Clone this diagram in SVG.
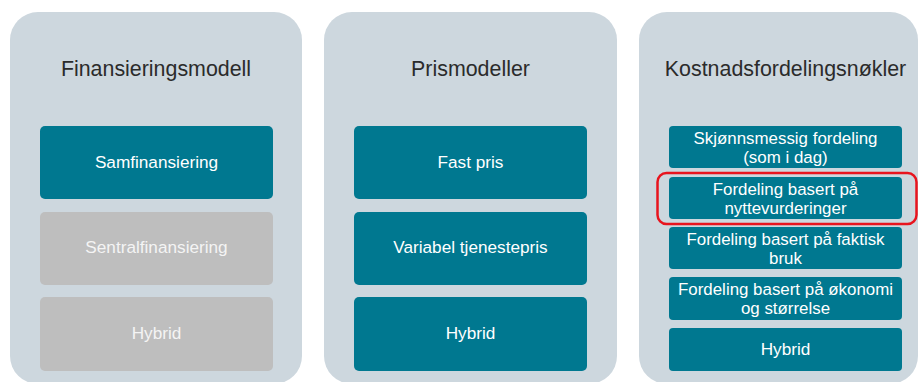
<svg xmlns="http://www.w3.org/2000/svg" width="919" height="382" viewBox="0 0 919 382">
<style>
.panel{fill:#cdd7de}
.teal{fill:#007890}
.gray{fill:#bebebe}
.title{font-family:"Liberation Sans",Arial,sans-serif;font-size:21.4px;fill:#2b2b2b;text-anchor:middle}
.lbl{font-family:"Liberation Sans",Arial,sans-serif;font-size:17.2px;fill:#ffffff;text-anchor:middle}
.lbl2{font-family:"Liberation Sans",Arial,sans-serif;font-size:16.9px;fill:#ffffff;text-anchor:middle}
.lblg{font-family:"Liberation Sans",Arial,sans-serif;font-size:17.2px;fill:#f4f4f4;text-anchor:middle}
</style>
<rect width="919" height="382" fill="#ffffff"/>
<g id="panel-finansiering">
<rect class="panel" x="10" y="12" width="292" height="372" rx="28"/>
<text class="title" x="156" y="76">Finansieringsmodell</text>
</g>
<g id="node-samfinansiering"><rect class="teal" x="40" y="126" width="233" height="73" rx="5"/><text class="lbl" x="156.5" y="168">Samfinansiering</text></g>
<g id="node-sentralfinansiering"><rect class="gray" x="40" y="212" width="233" height="73" rx="5"/><text class="lblg" x="156.5" y="253">Sentralfinansiering</text></g>
<g id="node-hybrid1"><rect class="gray" x="40" y="297" width="233" height="74" rx="5"/><text class="lblg" x="156.5" y="339">Hybrid</text></g>

<g id="panel-pris">
<rect class="panel" x="324" y="12" width="293" height="372" rx="28"/>
<text class="title" x="470.5" y="76">Prismodeller</text>
</g>
<g id="node-fastpris"><rect class="teal" x="354" y="126" width="233" height="73" rx="5"/><text class="lbl" x="470.5" y="168">Fast pris</text></g>
<g id="node-variabel"><rect class="teal" x="354" y="212" width="233" height="73" rx="5"/><text class="lbl" x="470.5" y="253">Variabel tjenestepris</text></g>
<g id="node-hybrid2"><rect class="teal" x="354" y="297" width="233" height="74" rx="5"/><text class="lbl" x="470.5" y="339">Hybrid</text></g>

<g id="panel-kostnad">
<rect class="panel" x="639" y="12" width="279" height="372" rx="28"/>
<text class="title" x="785.5" y="76">Kostnadsfordelingsnøkler</text>
</g>
<g id="node-skjonn"><rect class="teal" x="669" y="126" width="233" height="42" rx="4"/><text class="lbl2" x="785.5" y="143.5">Skjønnsmessig fordeling<tspan x="785.5" dy="19">(som i dag)</tspan></text></g>
<g id="node-nytte"><rect class="teal" x="669" y="177" width="233" height="42" rx="4"/><text class="lbl2" x="785.5" y="194.5">Fordeling basert på<tspan x="785.5" dy="19">nyttevurderinger</tspan></text>
<rect x="657.5" y="173" width="259" height="51" rx="9" fill="none" stroke="#e8141e" stroke-width="2.5"/></g>
<g id="node-faktisk"><rect class="teal" x="669" y="227" width="233" height="42" rx="4"/><text class="lbl2" x="785.5" y="244.5">Fordeling basert på faktisk<tspan x="785.5" dy="19">bruk</tspan></text></g>
<g id="node-okonomi"><rect class="teal" x="669" y="277" width="233" height="43" rx="4"/><text class="lbl2" x="785.5" y="294.5">Fordeling basert på økonomi<tspan x="785.5" dy="19">og størrelse</tspan></text></g>
<g id="node-hybrid3"><rect class="teal" x="669" y="328" width="233" height="43" rx="4"/><text class="lbl" x="785.5" y="355">Hybrid</text></g>
<g id="connectors"></g>
</svg>
